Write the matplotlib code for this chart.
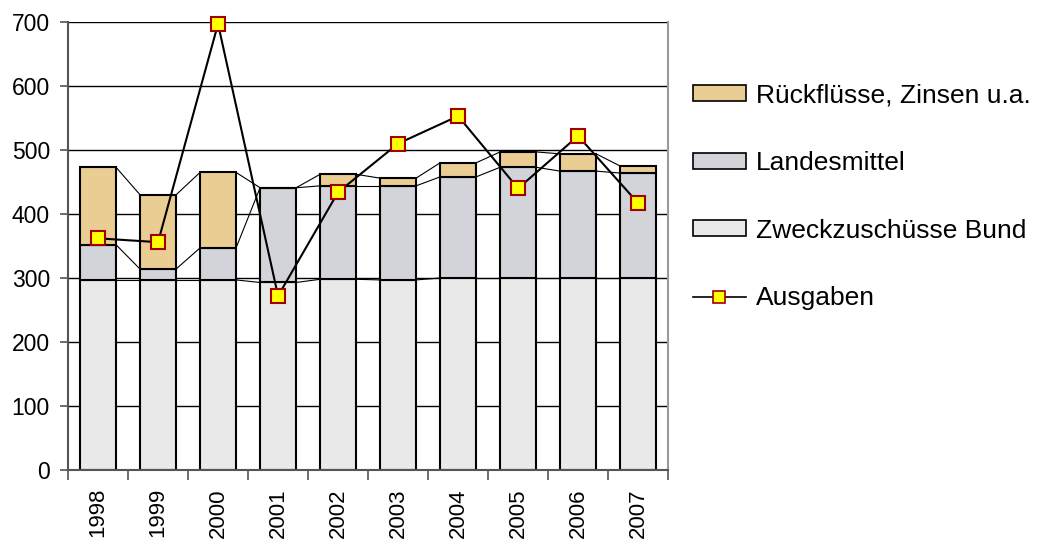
import matplotlib.pyplot as plt
import numpy as np
from matplotlib.lines import Line2D
from matplotlib.patches import Patch

plt.rcParams['font.family'] = ['Liberation Sans', 'DejaVu Sans']

years = ['1998', '1999', '2000', '2001', '2002', '2003', '2004', '2005', '2006', '2007']
bund = [297, 297, 297, 293, 298, 297, 300, 300, 300, 300]
landes = [55, 17, 50, 148, 146, 147, 158, 173, 167, 164]
rueck = [121, 116, 118, 0, 18, 12, 22, 24, 27, 11]
ausgaben = [362, 356, 697, 272, 434, 510, 553, 440, 522, 417]

c_bund = '#e9e9e9'
c_landes = '#d3d4da'
c_rueck = '#e9cd92'

fig = plt.figure(figsize=(10.53, 5.43), dpi=100)
ax = fig.add_axes([0.0646, 0.1344, 0.5699, 0.8251])

x = np.arange(len(years))
w = 0.6
bund = np.array(bund)
landes = np.array(landes)
rueck = np.array(rueck)

ax.bar(x, bund, w, color=c_bund, edgecolor='black', linewidth=1.5, zorder=2)
ax.bar(x, landes, w, bottom=bund, color=c_landes, edgecolor='black', linewidth=1.5, zorder=2)
ax.bar(x, rueck, w, bottom=bund + landes, color=c_rueck, edgecolor='black', linewidth=1.5, zorder=2)

# series lines between the bar tops
for level in [bund, bund + landes, bund + landes + rueck]:
    for i in range(len(x) - 1):
        ax.plot([x[i] + w / 2, x[i + 1] - w / 2], [level[i], level[i + 1]],
                color='black', linewidth=0.8, zorder=2)

ax.plot(x, ausgaben, color='black', linewidth=1.5, marker='s', markersize=10,
        markerfacecolor='#ffff00', markeredgecolor='#a00000', markeredgewidth=1.5,
        zorder=4, clip_on=False)

ax.set_xlim(-0.5, len(years) - 0.5)
ax.set_ylim(0, 700)
ax.set_yticks(range(0, 701, 100))
ax.yaxis.grid(True, color='black', linewidth=1.0, zorder=0)
ax.set_axisbelow(True)

ax.set_xticks(x)
ax.set_xticklabels(years, rotation=90, fontsize=16)
ax.tick_params(axis='x', length=0, pad=13)
ax.set_xticks(np.arange(-0.5, len(years), 1), minor=True)
ax.tick_params(axis='x', which='minor', length=7, color='#555555', width=1.2)
ax.tick_params(axis='y', labelsize=16.5, length=6, color='#555555', width=1.2, pad=7)

for s in ['left', 'bottom']:
    ax.spines[s].set_color('#555555')
    ax.spines[s].set_linewidth(1.5)
ax.spines['right'].set_color('#999999')
ax.spines['right'].set_linewidth(1.5)
ax.spines['top'].set_visible(False)

handles = [
    Patch(facecolor=c_rueck, edgecolor='black', linewidth=1.2),
    Patch(facecolor=c_landes, edgecolor='black', linewidth=1.2),
    Patch(facecolor=c_bund, edgecolor='black', linewidth=1.2),
    Line2D([0], [0], color='black', linewidth=1.2, marker='s', markersize=9,
           markerfacecolor='#ffff00', markeredgecolor='#a00000', markeredgewidth=1.2),
]
labels = ['Rückflüsse, Zinsen u.a.', 'Landesmittel', 'Zweckzuschüsse Bund', 'Ausgaben']
fig.legend(handles, labels, loc='upper left', bbox_to_anchor=(0.658, 0.846),
           frameon=False, fontsize=19, handlelength=2.0, handleheight=0.55,
           labelspacing=1.65, handletextpad=0.38, borderaxespad=0, borderpad=0)

fig.savefig('out.png', dpi=100)
